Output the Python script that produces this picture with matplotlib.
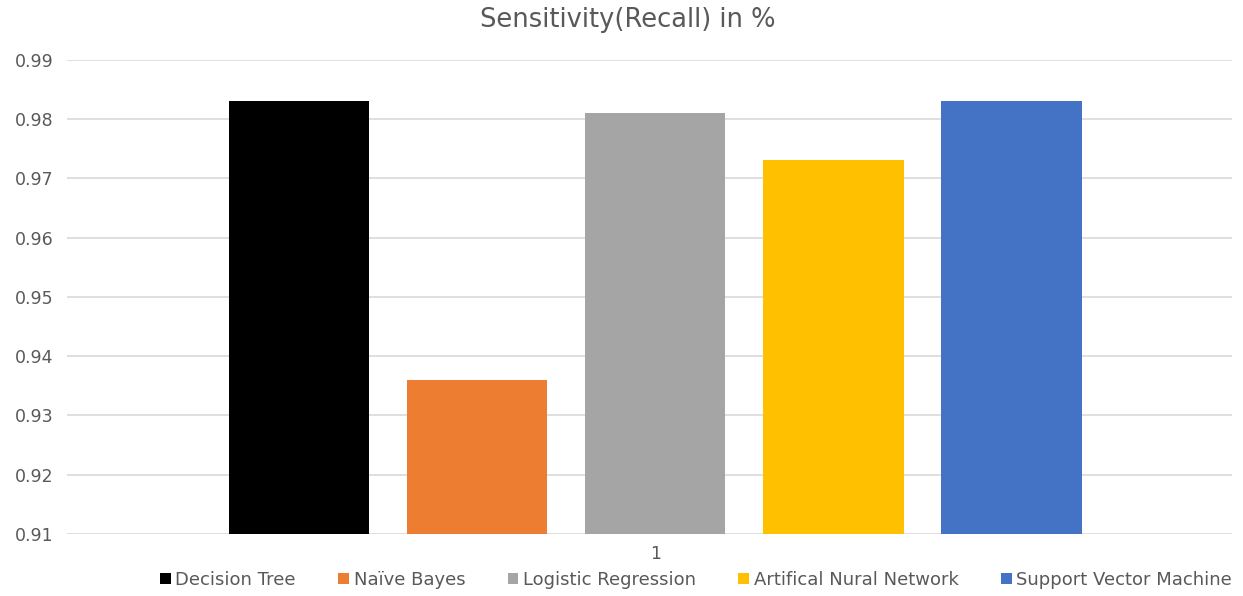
import matplotlib
matplotlib.use("Agg")
import matplotlib.pyplot as plt
from matplotlib.patches import Patch

# Model sensitivity (recall) scores
models = ["Decision Tree", "Naïve Bayes", "Logistic Regression",
          "Artifical Nural Network", "Support Vector Machine"]
recall = [0.983, 0.936, 0.981, 0.973, 0.983]
colors = ["#000000", "#ED7D31", "#A5A5A5", "#FFC000", "#4472C4"]
y_ticks = [0.91, 0.92, 0.93, 0.94, 0.95, 0.96, 0.97, 0.98, 0.99]
group_label = "1"

plt.rcParams['font.family'] = ['DejaVu Sans']
text_color = "#595959"

fig = plt.figure(figsize=(12.43, 5.96), dpi=100)
ax = fig.add_axes([0.054, 0.104, 0.937, 0.796])

positions = list(range(len(models)))
ax.bar(positions, [v - y_ticks[0] for v in recall], bottom=y_ticks[0],
       width=0.787, color=colors, zorder=3)

ax.set_ylim(y_ticks[0], y_ticks[-1])
ax.set_xlim(-1.304, 5.237)
ax.set_yticks(y_ticks)
ax.set_yticklabels([f"{t:.2f}" for t in y_ticks])
ax.set_xticks([2])
ax.set_xticklabels([group_label])
ax.grid(axis="y", color="#D9D9D9", linewidth=1.2, zorder=0)
for s in ax.spines.values():
    s.set_visible(False)
ax.tick_params(axis="both", length=0, colors=text_color, labelsize=12.5)
ax.tick_params(axis="y", pad=10)
ax.tick_params(axis="x", pad=8)

fig.text(0.505, 0.966, "Sensitivity(Recall) in %", color=text_color,
         fontsize=18.5, ha="center", va="center")

handles = [Patch(facecolor=c, label=m) for c, m in zip(colors, models)]
fig.legend(handles=handles, loc="center", bbox_to_anchor=(0.56, 0.027),
           ncol=5, frameon=False, fontsize=13, labelcolor=text_color,
           handlelength=0.6, handleheight=0.6, handletextpad=0.25,
           columnspacing=2.35, borderaxespad=0, borderpad=0)

fig.savefig("out.png", dpi=100, facecolor="white")
